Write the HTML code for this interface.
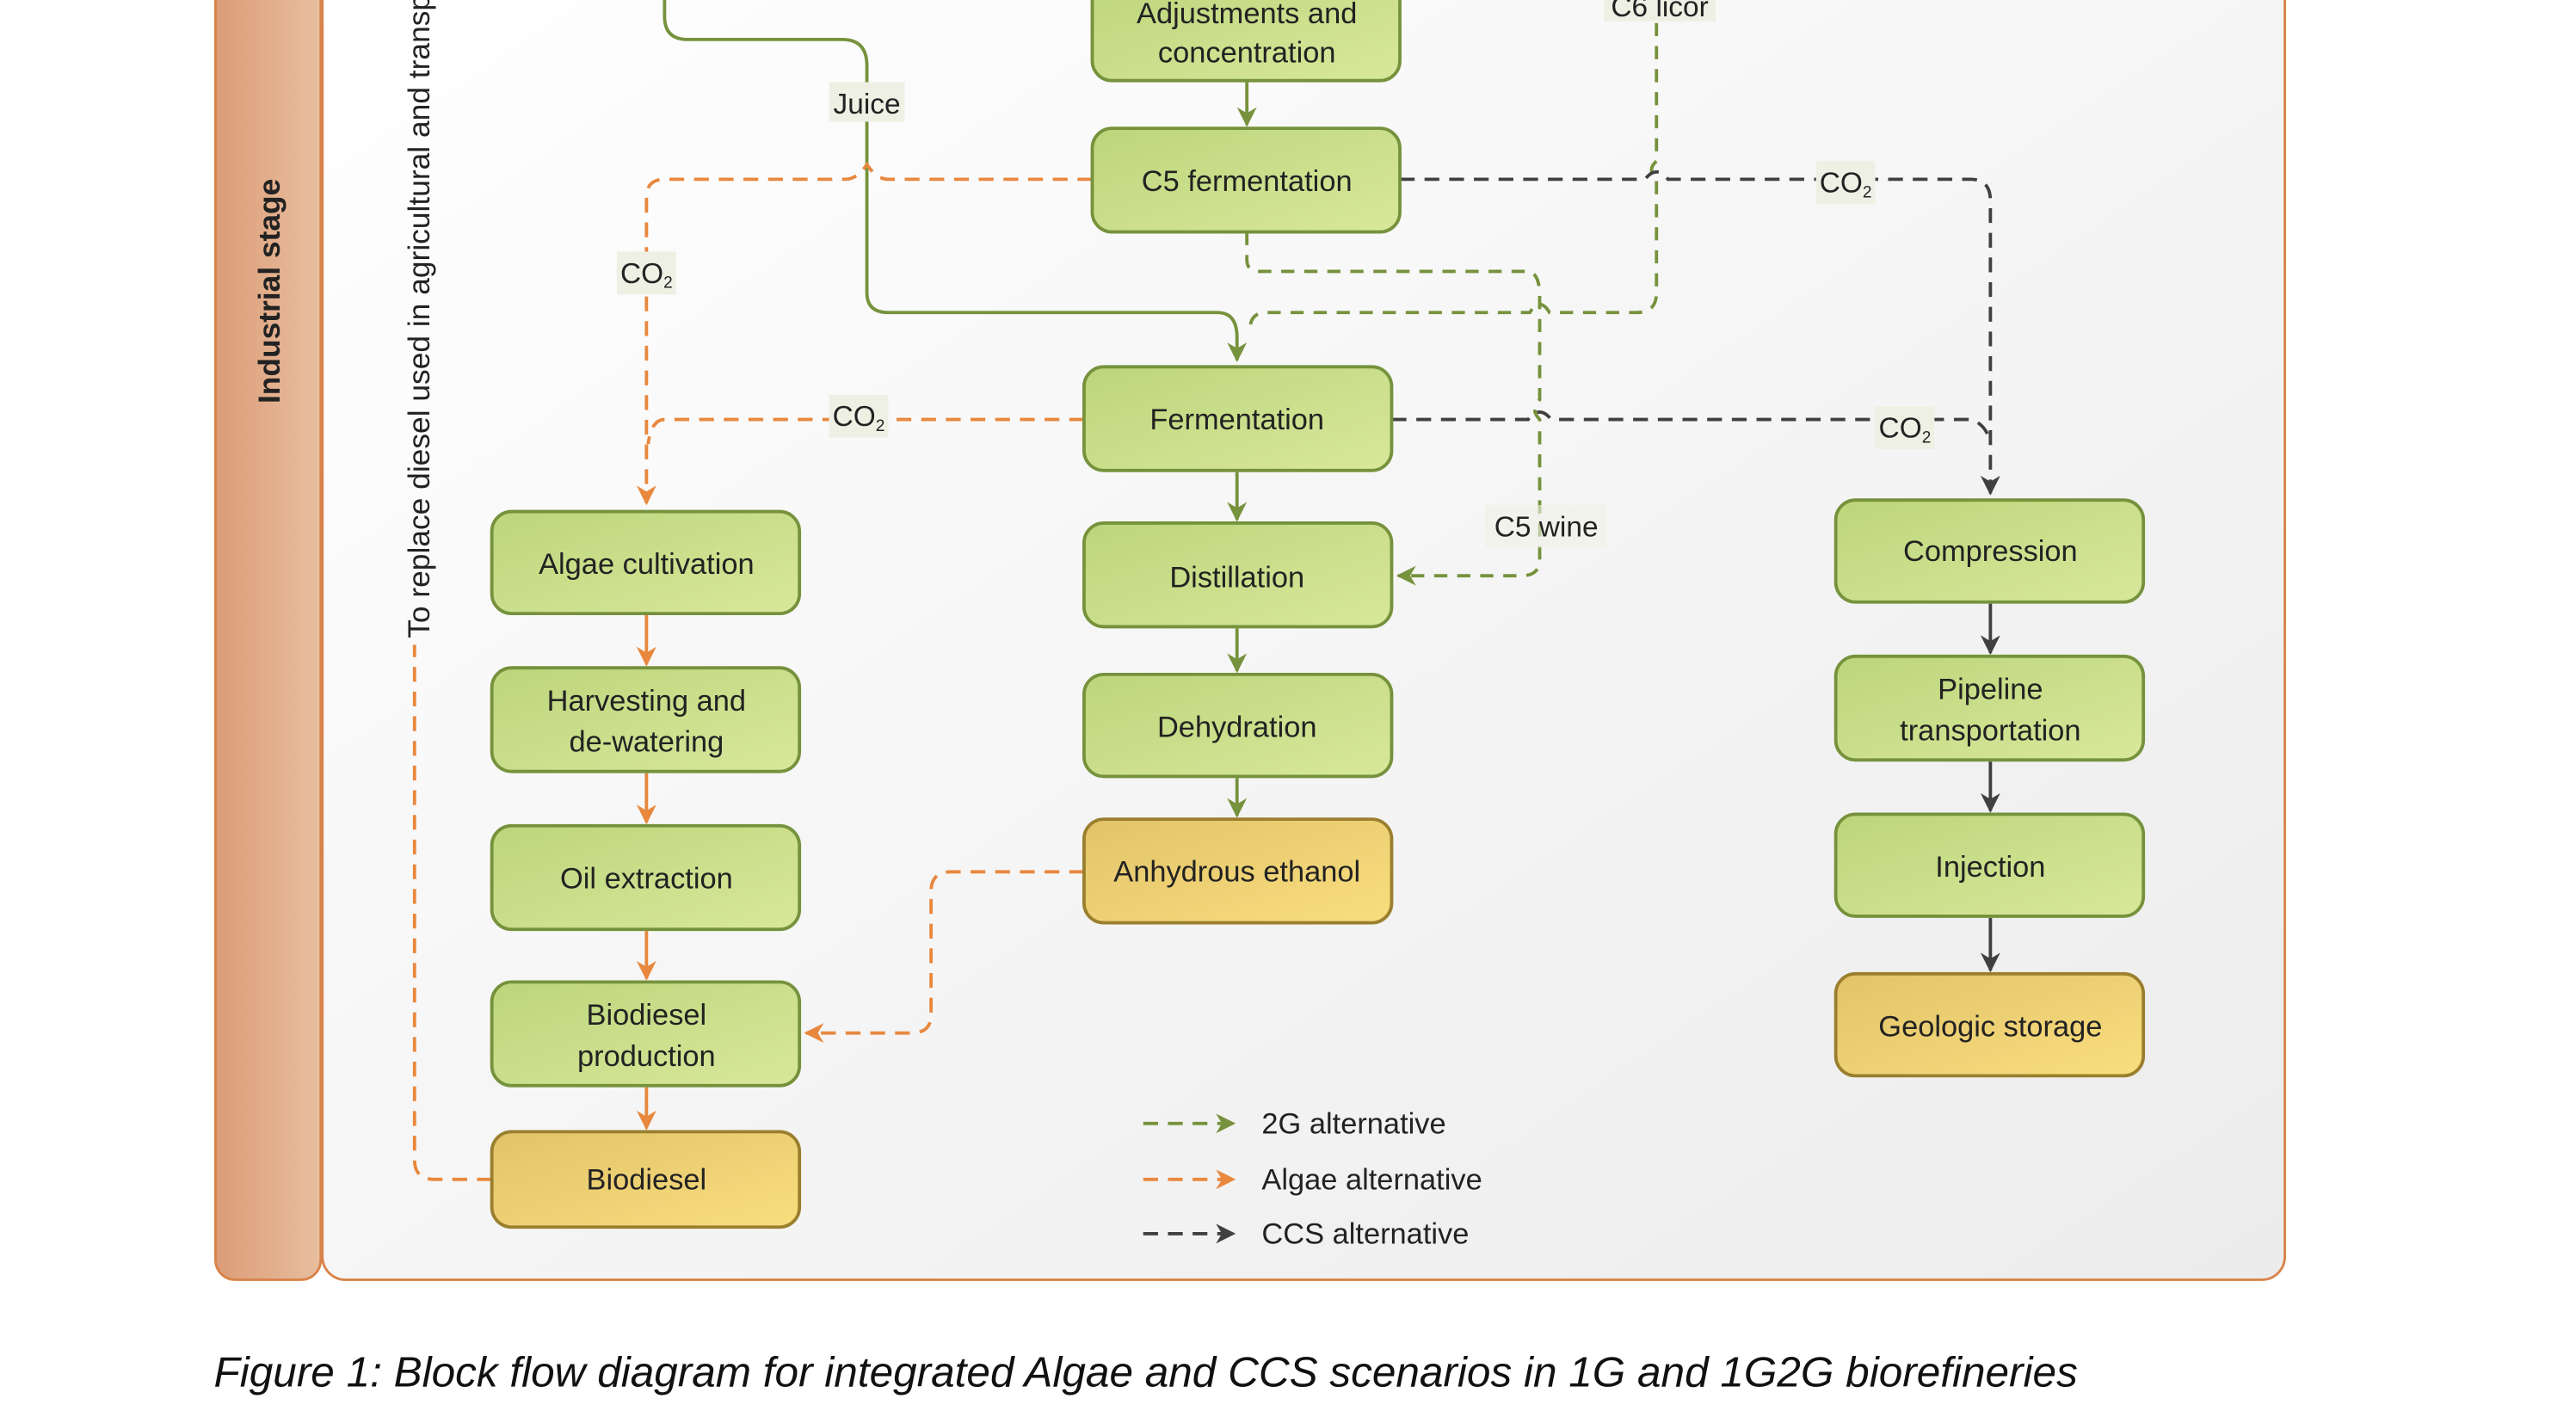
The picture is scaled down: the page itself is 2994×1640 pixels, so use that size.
<!DOCTYPE html>
<html><head><meta charset="utf-8"><style>
html,body{margin:0;padding:0;background:#fff;}
svg{display:block;}
text{font-family:"Liberation Sans",sans-serif;}
</style></head><body>
<svg width="2994" height="1640" viewBox="0 0 1566 857.8" preserveAspectRatio="none" xmlns="http://www.w3.org/2000/svg">
<defs>
<linearGradient id="side" x1="0" y1="0" x2="1" y2="0"><stop offset="0" stop-color="#dc9c77"/><stop offset="1" stop-color="#e8bfa0"/></linearGradient>
<linearGradient id="panel" x1="0" y1="0" x2="1" y2="1"><stop offset="0" stop-color="#ffffff"/><stop offset="1" stop-color="#ececec"/></linearGradient>
<linearGradient id="gbox" x1="0" y1="0" x2="1" y2="1"><stop offset="0" stop-color="#bcd57a"/><stop offset="1" stop-color="#d8e89c"/></linearGradient>
<linearGradient id="ybox" x1="0" y1="0" x2="1" y2="1"><stop offset="0" stop-color="#e2c36a"/><stop offset="1" stop-color="#f9de7e"/></linearGradient>
<marker id="ag" viewBox="0 0 10 10" refX="9" refY="5" markerWidth="14" markerHeight="12" orient="auto" markerUnits="userSpaceOnUse"><path d="M0,0 L10,5 L0,10 L3,5z" fill="#76923c"/></marker>
<marker id="ao" viewBox="0 0 10 10" refX="9" refY="5" markerWidth="14" markerHeight="12" orient="auto" markerUnits="userSpaceOnUse"><path d="M0,0 L10,5 L0,10 L3,5z" fill="#e8883e"/></marker>
<marker id="ak" viewBox="0 0 10 10" refX="9" refY="5" markerWidth="14" markerHeight="12" orient="auto" markerUnits="userSpaceOnUse"><path d="M0,0 L10,5 L0,10 L3,5z" fill="#404040"/></marker>
</defs>
<rect x="131" y="-20" width="64" height="798" rx="12" fill="url(#side)" stroke="#d9834a" stroke-width="1.5"/>
<rect x="196" y="-20" width="1193" height="798" rx="14" fill="url(#panel)" stroke="#d9834a" stroke-width="1.5"/>
<text transform="translate(170,177) rotate(-90)" text-anchor="middle" font-size="18.5" font-weight="bold" fill="#222">Industrial stage</text>
<text transform="translate(261,388) rotate(-90)" font-size="18.5" fill="#222">To replace diesel used in agricultural and transport</text>

<g fill="none" stroke-width="2">
<path d="M404,-10 V10 Q404,24 418,24 H512 Q527,24 527,40 V178 Q527,190 540,190 H740 Q752,190 752,205 V219" stroke="#76923c" marker-end="url(#ag)"/>
<path d="M1007,0 V98 Q1001,103 1007,109 V178 Q1007,190 995,190 H942 Q936,180 930,190 H770 Q760,190 760,200" stroke="#76923c" stroke-dasharray="8,6"/>
<path d="M758,141 V158 Q758,165 766,165 H928 Q936,165 936,180 V243 Q930,249 936,255 V340 Q936,350 925,350 H850" stroke="#76923c" stroke-dasharray="8,6" marker-end="url(#ag)"/>
<path d="M664,109 H540 Q533,109 527,100 Q521,109 514,109 H404 Q393,109 393,120 V306" stroke="#e8883e" stroke-dasharray="9,6" marker-end="url(#ao)"/>
<path d="M659,255 H404 Q396,255 394,270" stroke="#e8883e" stroke-dasharray="9,6"/>
<path d="M851,109 H1000 Q1007,100 1014,109 H1198 Q1210,109 1210,122 V300" stroke="#404040" stroke-dasharray="9,6" marker-end="url(#ak)"/>
<path d="M846,255 H929 Q936,246 943,255 H1198 Q1208,258 1210,270" stroke="#404040" stroke-dasharray="9,6"/>
<path d="M659,530 H578 Q566,530 566,542 V617 Q566,628 554,628 H490" stroke="#e8883e" stroke-dasharray="9,6" marker-end="url(#ao)"/>
<path d="M299,717 H264 Q252,717 252,705 V392" stroke="#e8883e" stroke-dasharray="9,6"/>
<path d="M758,50 V76" stroke="#76923c" marker-end="url(#ag)"/>
<path d="M752,287 V316" stroke="#76923c" marker-end="url(#ag)"/>
<path d="M752,382 V408" stroke="#76923c" marker-end="url(#ag)"/>
<path d="M752,473 V496" stroke="#76923c" marker-end="url(#ag)"/>
<path d="M393,374 V404" stroke="#e8883e" marker-end="url(#ao)"/>
<path d="M393,470 V500" stroke="#e8883e" marker-end="url(#ao)"/>
<path d="M393,566 V595" stroke="#e8883e" marker-end="url(#ao)"/>
<path d="M393,661 V686" stroke="#e8883e" marker-end="url(#ao)"/>
<path d="M1210,367 V397" stroke="#404040" marker-end="url(#ak)"/>
<path d="M1210,463 V493" stroke="#404040" marker-end="url(#ak)"/>
<path d="M1210,558 V590" stroke="#404040" marker-end="url(#ak)"/>
<path d="M695,683 H750" stroke="#76923c" stroke-dasharray="9,6" marker-end="url(#ag)"/>
<path d="M695,717 H750" stroke="#e8883e" stroke-dasharray="9,6" marker-end="url(#ao)"/>
<path d="M695,750 H750" stroke="#404040" stroke-dasharray="9,6" marker-end="url(#ak)"/>
</g>

<g font-size="17.5" fill="#222" text-anchor="middle">
<rect x="504" y="50" width="46" height="24" fill="#eef0e4"/><text x="527" y="69">Juice</text>
<rect x="975" y="-5" width="68" height="18" fill="#eef0e4"/><text x="1009" y="10">C6 licor</text>
<rect x="375" y="153" width="36" height="26" fill="#eef0e4"/><text x="393" y="172">CO<tspan font-size="10" dy="3">2</tspan></text>
<rect x="504" y="240" width="36" height="26" fill="#eef0e4"/><text x="522" y="259">CO<tspan font-size="10" dy="3">2</tspan></text>
<rect x="1104" y="98" width="36" height="26" fill="#eef0e4"/><text x="1122" y="117">CO<tspan font-size="10" dy="3">2</tspan></text>
<rect x="1140" y="247" width="36" height="26" fill="#eef0e4"/><text x="1158" y="266">CO<tspan font-size="10" dy="3">2</tspan></text>
<rect x="903" y="307" width="74" height="26" fill="#eef0e4" opacity="0.6"/><text x="940" y="326">C5 wine</text>
</g>

<g stroke="#76923c" stroke-width="2">
<rect x="664" y="-15" width="187" height="64" rx="12" fill="url(#gbox)"/>
<rect x="664" y="78" width="187" height="63" rx="12" fill="url(#gbox)"/>
<rect x="659" y="223" width="187" height="63" rx="12" fill="url(#gbox)"/>
<rect x="659" y="318" width="187" height="63" rx="12" fill="url(#gbox)"/>
<rect x="659" y="410" width="187" height="62" rx="12" fill="url(#gbox)"/>
<rect x="299" y="311" width="187" height="62" rx="12" fill="url(#gbox)"/>
<rect x="299" y="406" width="187" height="63" rx="12" fill="url(#gbox)"/>
<rect x="299" y="502" width="187" height="63" rx="12" fill="url(#gbox)"/>
<rect x="299" y="597" width="187" height="63" rx="12" fill="url(#gbox)"/>
<rect x="1116" y="304" width="187" height="62" rx="12" fill="url(#gbox)"/>
<rect x="1116" y="399" width="187" height="63" rx="12" fill="url(#gbox)"/>
<rect x="1116" y="495" width="187" height="62" rx="12" fill="url(#gbox)"/>
</g>
<g stroke="#9a7f2e" stroke-width="2">
<rect x="659" y="498" width="187" height="63" rx="12" fill="url(#ybox)"/>
<rect x="299" y="688" width="187" height="58" rx="12" fill="url(#ybox)"/>
<rect x="1116" y="592" width="187" height="62" rx="12" fill="url(#ybox)"/>
</g>
<g font-size="18" fill="#222" text-anchor="middle">
<text x="758" y="14">Adjustments and</text><text x="758" y="38">concentration</text>
<text x="758" y="116">C5 fermentation</text>
<text x="752" y="261">Fermentation</text>
<text x="752" y="357">Distillation</text>
<text x="752" y="448">Dehydration</text>
<text x="752" y="536">Anhydrous ethanol</text>
<text x="393" y="349">Algae cultivation</text>
<text x="393" y="432">Harvesting and</text><text x="393" y="457">de-watering</text>
<text x="393" y="540">Oil extraction</text>
<text x="393" y="623">Biodiesel</text><text x="393" y="648">production</text>
<text x="393" y="723">Biodiesel</text>
<text x="1210" y="341">Compression</text>
<text x="1210" y="425">Pipeline</text><text x="1210" y="450">transportation</text>
<text x="1210" y="533">Injection</text>
<text x="1210" y="630">Geologic storage</text>
</g>
<g font-size="18" fill="#222">
<text x="767" y="689">2G alternative</text>
<text x="767" y="723">Algae alternative</text>
<text x="767" y="756">CCS alternative</text>
</g>
<text x="130" y="843" font-size="25.9" font-style="italic" fill="#111">Figure 1: Block flow diagram for integrated Algae and CCS scenarios in 1G and 1G2G biorefineries</text>
</svg>
</body></html>
